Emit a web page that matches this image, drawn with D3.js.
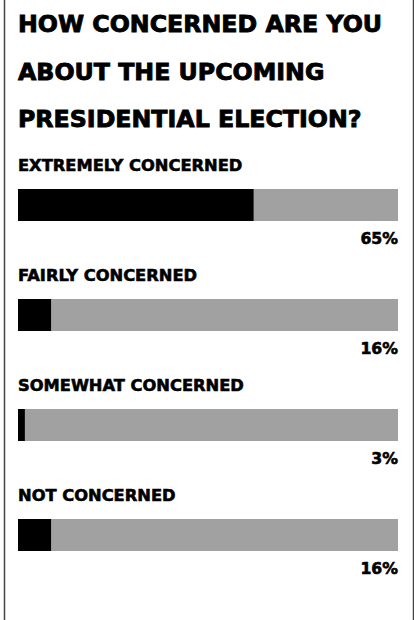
<!DOCTYPE html>
<html>
<head>
<meta charset="utf-8">
<script src="https://cdn.jsdelivr.net/npm/d3@7"></script>
<style>
    body { margin: 0; background: #fff; }
    svg text { font-family: "DejaVu Sans", sans-serif; font-weight: bold; fill: #000; stroke: #000; }
</style>
</head>
<body>
<div id="chart"></div>
<script>
const titleLines = ["HOW CONCERNED ARE YOU", "ABOUT THE UPCOMING", "PRESIDENTIAL ELECTION?"];
const categories = ["EXTREMELY CONCERNED", "FAIRLY CONCERNED", "SOMEWHAT CONCERNED", "NOT CONCERNED"];
const shares = [65, 16, 3, 16];
// the black part of each bar in the original is not drawn to the printed share,
// so these are read off the bars themselves
const barFill = [62, 8.7, 1.8, 8.7];

function drawChart() {
    const width = 414;
    const height = 620;
    const margin = { left: 18, right: 16 };

    const svg = d3.select("#chart")
        .append("svg")
        .attr("width", width)
        .attr("height", height);

    // frame, only the sides show in the window
    svg.append("rect")
        .attr("x", 4.5)
        .attr("y", -10)
        .attr("width", 409)
        .attr("height", height + 20)
        .attr("fill", "none")
        .attr("stroke", "#444")
        .attr("stroke-width", 1.5);

    svg.append("g")
        .selectAll("text")
        .data(titleLines)
        .join("text")
        .attr("x", margin.left)
        .attr("y", (d, i) => 32 + i * 47.5)
        .style("font-size", "23.7px")
        .style("stroke-width", 0.9)
        .text(d => d);

    const x = d3.scaleLinear()
        .domain([0, 100])
        .range([margin.left, width - margin.right]);

    const y = d3.scaleBand()
        .domain(categories)
        .range([152, 592]);

    const groups = svg.append("g")
        .selectAll("g")
        .data(categories)
        .join("g")
        .attr("transform", d => `translate(0, ${y(d)})`);

    groups.append("text")
        .attr("x", margin.left)
        .attr("y", 19)
        .style("font-size", "16.3px")
        .style("stroke-width", 0.6)
        .text(d => d);

    groups.append("rect")
        .attr("x", x(0))
        .attr("y", 37)
        .attr("width", x(100) - x(0))
        .attr("height", 32)
        .attr("fill", "#a1a1a1");

    groups.append("rect")
        .attr("x", x(0))
        .attr("y", 37)
        .attr("width", (d, i) => x(barFill[i]) - x(0))
        .attr("height", 32)
        .attr("fill", "#000");

    groups.append("text")
        .attr("x", x(100))
        .attr("y", 92)
        .attr("text-anchor", "end")
        .style("font-size", "15.7px")
        .style("stroke-width", 0.6)
        .text((d, i) => shares[i] + "%");
}

drawChart();
</script>
</body>
</html>
